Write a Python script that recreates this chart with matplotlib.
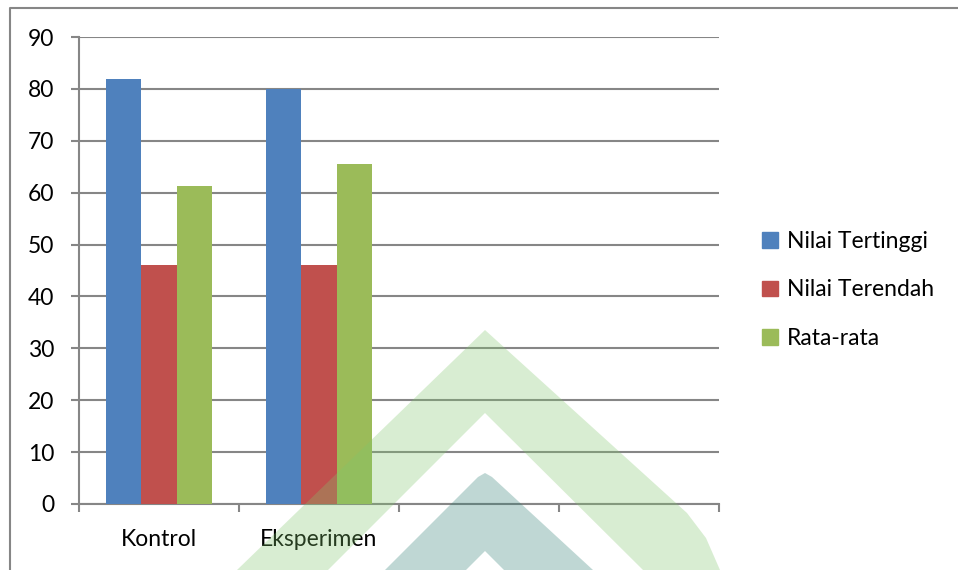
import matplotlib.pyplot as plt
from matplotlib.patches import Patch, Polygon
from matplotlib.lines import Line2D
import numpy as np

kategori = ["Kontrol", "Eksperimen", "", ""]
tertinggi = [82, 80, 0, 0]
terendah = [46, 46, 0, 0]
rata = [61.2, 65.5, 0, 0]
seri = ["Nilai Tertinggi", "Nilai Terendah", "Rata-rata"]
warna = ["#4f81bd", "#c0504d", "#9bbb59"]
abu = "#868686"

plt.rcParams['font.family'] = ['Lato', 'DejaVu Sans']
fs = 16.5

W, H = 958, 570
fig = plt.figure(figsize=(W / 100, H / 100), dpi=100)
ax = fig.add_axes([79 / W, 1 - 504 / H, 640 / W, 467 / H])

x = np.arange(len(kategori))
lebar = 0.2222
for i, nilai in enumerate([tertinggi, terendah, rata]):
    ax.bar(x + (i - 1) * lebar, nilai, lebar, color=warna[i], zorder=3)

ax.set_xlim(-0.5, len(kategori) - 0.5)
ax.set_ylim(0, 90)
ax.set_yticks(range(0, 91, 10))
ax.set_xticks(x)
ax.set_xticklabels(kategori)
ax.set_xticks(np.arange(-0.5, len(kategori), 1), minor=True)
ax.tick_params(axis='x', which='major', length=0, pad=18, labelsize=fs)
ax.tick_params(axis='x', which='minor', length=6, width=1.5, color=abu)
ax.tick_params(axis='y', length=6, width=1.5, color=abu, pad=12, labelsize=fs)
ax.yaxis.grid(True, color=abu, linewidth=1.5, zorder=0)
for s in ['top', 'right']:
    ax.spines[s].set_visible(False)
for s in ['left', 'bottom']:
    ax.spines[s].set_color(abu)
    ax.spines[s].set_linewidth(1.5)

handles = [Patch(color=c) for c in warna]
fig.legend(handles, seri, loc='center left', bbox_to_anchor=(762 / W, 1 - 290 / H),
           frameon=False, fontsize=fs, handlelength=0.68, handleheight=0.68,
           handletextpad=0.4, labelspacing=1.2, borderpad=0, borderaxespad=0)

# bingkai chart
fig.add_artist(Line2D([9.5 / W, 9.5 / W, 1], [0, 1 - 7.5 / H, 1 - 7.5 / H],
                      transform=fig.transFigure, color=abu, linewidth=1.5))


# watermark di latar dokumen
def px(pts):
    return [(a / W, 1 - b / H) for a, b in pts]


hijau = [(237, 570), (485, 330), (687, 513), (706, 538), (720, 570),
         (643, 570), (485, 413), (328, 570)]
teal = [(385, 570), (478, 477), (485, 473), (492, 477), (593, 570),
        (504, 570), (485, 551), (466, 570)]
fig.add_artist(Polygon(px(hijau), closed=True, transform=fig.transFigure,
                       facecolor="#80c66c", edgecolor='none', alpha=0.3, zorder=10))
fig.add_artist(Polygon(px(teal), closed=True, transform=fig.transFigure,
                       facecolor="#2d7d73", edgecolor='none', alpha=0.3, zorder=10))

plt.savefig("out.png", dpi=100)
